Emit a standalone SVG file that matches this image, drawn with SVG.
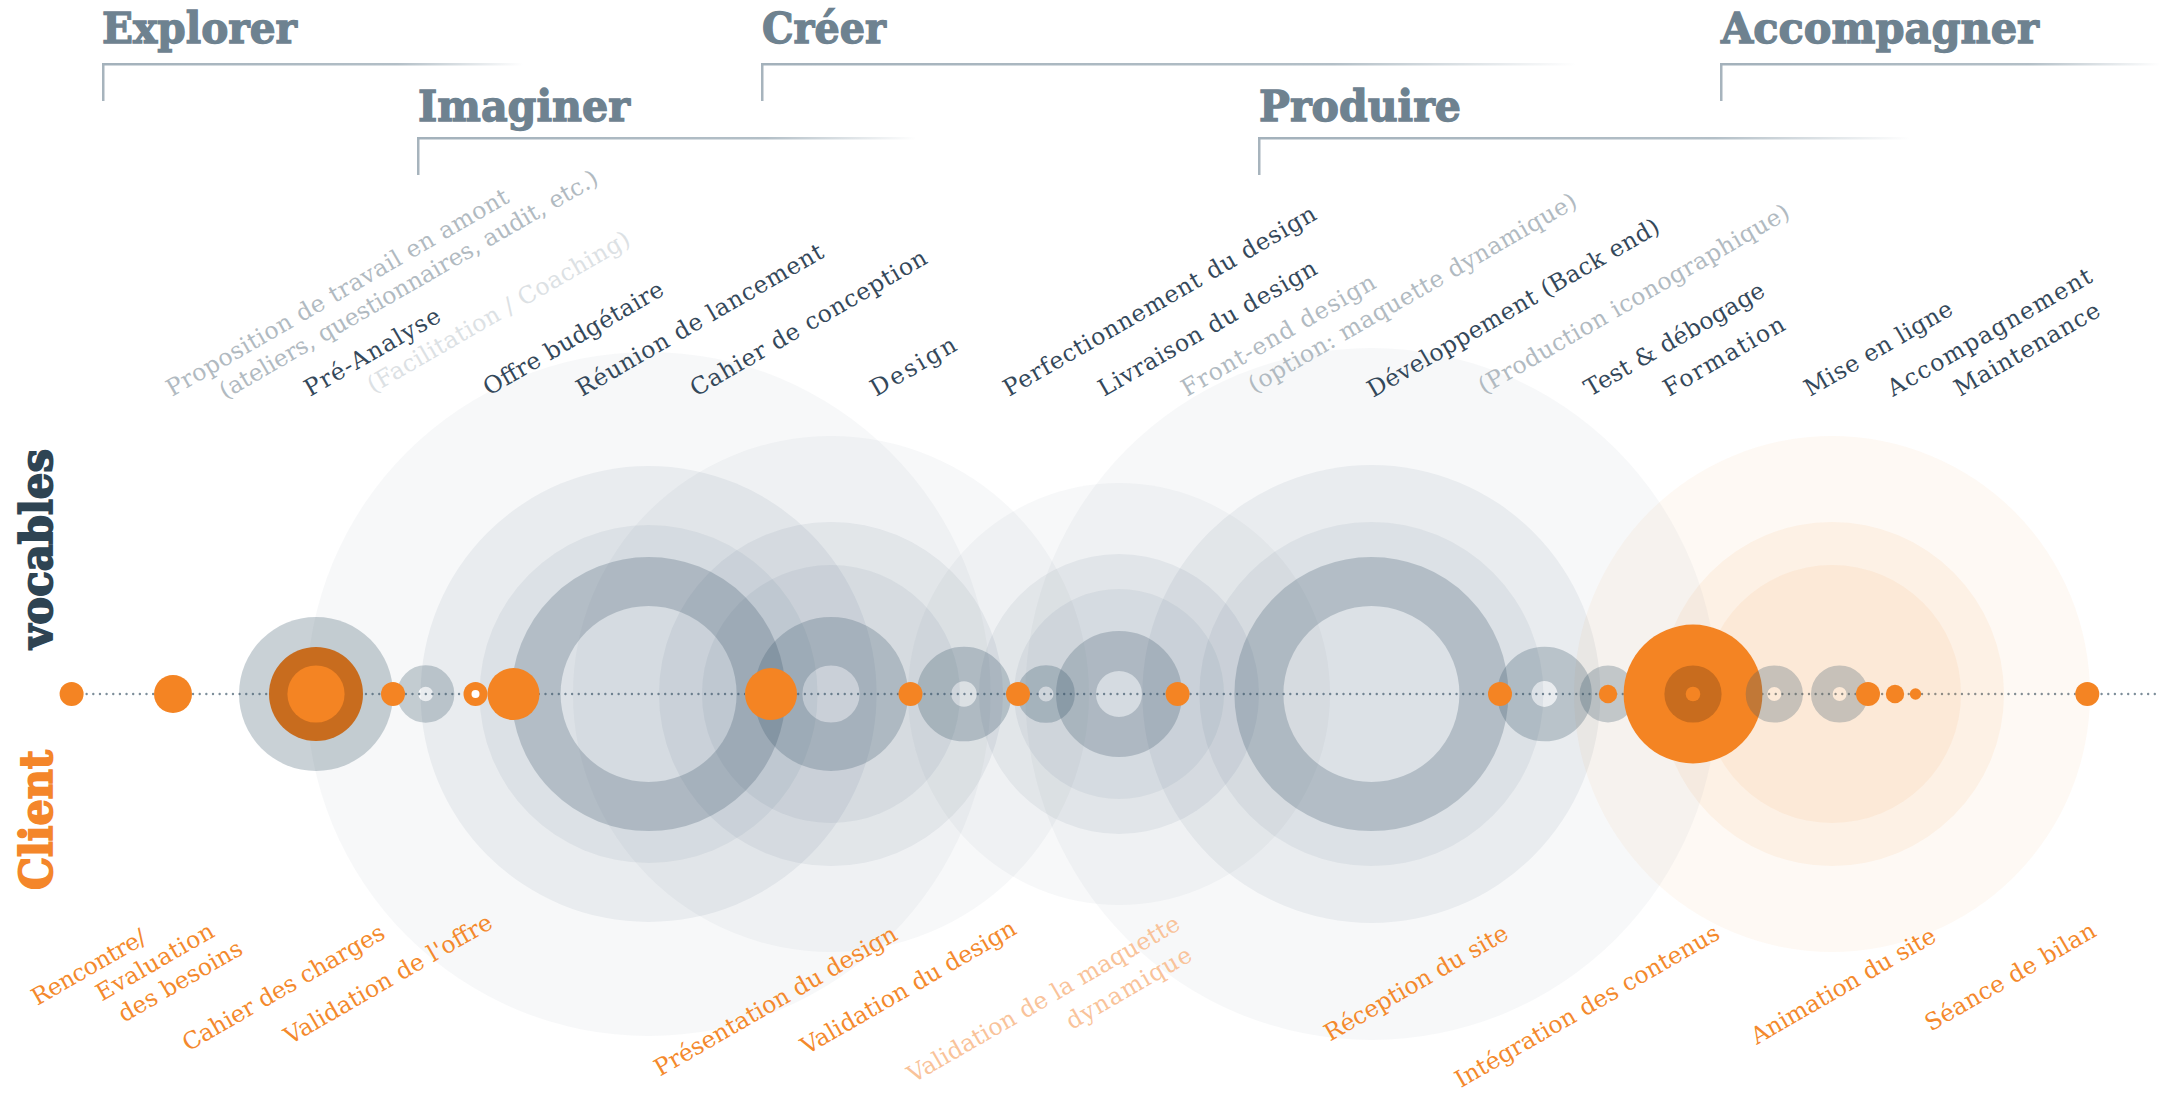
<svg xmlns="http://www.w3.org/2000/svg" width="2160" height="1094" viewBox="0 0 2160 1094">
<defs>
<linearGradient id="fadeH" x1="0" y1="0" x2="1" y2="0">
<stop offset="0" stop-color="#a3b1bb"/>
<stop offset="0.7" stop-color="#b3bfc7"/>
<stop offset="1" stop-color="#b3bfc7" stop-opacity="0"/>
</linearGradient>
<style>
.head{font-family:"DejaVu Serif","Liberation Serif",serif;font-weight:bold;font-size:42px;fill:#6e8290;stroke:#6e8290;stroke-width:1.3px}
.brk{fill:#a7b4bd}
.lbl{font-family:"DejaVu Serif","Liberation Serif",serif;font-size:23.5px}
.dk{fill:#34485a}
.lt{fill:#b1bac1}
.vlt{fill:#dce1e4}
.or{fill:#f4892c}
.olt{fill:#f9c39a}
.side{font-family:"DejaVu Serif","Liberation Serif",serif;font-weight:bold;font-size:44px;stroke-width:1.8px}
.g1{fill:#3d5a6c;fill-opacity:0.045}
.g2{fill:#3d5a6c;fill-opacity:0.07}
.rg{fill:none;stroke:#3d5a6c;stroke-opacity:0.26}
.sg{fill:#3d5a6c;fill-opacity:0.28}
.srg{fill:none;stroke:#3d5a6c;stroke-opacity:0.28}
.o1{fill:#f48423;fill-opacity:0.05}
.o2{fill:#f48423;fill-opacity:0.065}
.dot{fill:#f48423}
.dko{fill:#c86c1e}
.dash{stroke:#7d8e9a;stroke-width:2.4;stroke-linecap:round;stroke-dasharray:0 6.65;fill:none}
</style>
</defs>
<rect width="2160" height="1094" fill="#ffffff"/>

<g id="phases">
<text class="head" x="102" y="43" textLength="195" lengthAdjust="spacingAndGlyphs">Explorer</text>
<rect class="brk" x="102" y="63" width="2.5" height="38"/>
<rect x="102" y="63" width="421" height="2.5" fill="url(#fadeH)"/>
<text class="head" x="418" y="121" textLength="212" lengthAdjust="spacingAndGlyphs">Imaginer</text>
<rect class="brk" x="417" y="137" width="2.5" height="38"/>
<rect x="417" y="137" width="499" height="2.5" fill="url(#fadeH)"/>
<text class="head" x="762" y="43" textLength="124" lengthAdjust="spacingAndGlyphs">Créer</text>
<rect class="brk" x="761" y="63" width="2.5" height="38"/>
<rect x="761" y="63" width="815" height="2.5" fill="url(#fadeH)"/>
<text class="head" x="1259" y="121" textLength="202" lengthAdjust="spacingAndGlyphs">Produire</text>
<rect class="brk" x="1258" y="137" width="2.5" height="38"/>
<rect x="1258" y="137" width="652" height="2.5" fill="url(#fadeH)"/>
<text class="head" x="1721" y="43" textLength="318" lengthAdjust="spacingAndGlyphs">Accompagner</text>
<rect class="brk" x="1720" y="63" width="2.5" height="38"/>
<rect x="1720" y="63" width="440" height="2.5" fill="url(#fadeH)"/>
</g>

<g id="connectors">
<line class="dash" x1="80" y1="694" x2="2160" y2="694"/>
</g>

<g id="node-imaginer-big">
<circle class="g1" cx="648.6" cy="694" r="342"/>
<circle class="g2" cx="648.6" cy="694" r="228"/>
<circle class="g2" cx="648.6" cy="694" r="169"/>
<circle class="rg" cx="648.6" cy="694" r="112.5" stroke-width="49"/>
</g>
<g id="node-conception">
<circle class="g1" cx="831" cy="694" r="258"/>
<circle class="g2" cx="831" cy="694" r="172"/>
<circle class="g2" cx="831" cy="694" r="129"/>
<circle class="rg" cx="831" cy="694" r="52.8" stroke-width="48.4"/>
</g>
<g id="node-perfectionnement">
<circle class="srg" cx="964" cy="694" r="30" stroke-width="34.6"/>
</g>
<g id="node-livraison">
<circle class="srg" cx="1046" cy="694" r="18.2" stroke-width="21.3"/>
</g>
<g id="node-frontend">
<circle class="g1" cx="1119" cy="694" r="211"/>
<circle class="g2" cx="1119" cy="694" r="140"/>
<circle class="g2" cx="1119" cy="694" r="105"/>
<circle class="rg" cx="1119" cy="694" r="43" stroke-width="40"/>
</g>
<g id="node-developpement">
<circle class="g1" cx="1371.4" cy="694" r="346"/>
<circle class="g2" cx="1371.4" cy="694" r="229"/>
<circle class="g2" cx="1371.4" cy="694" r="172"/>
<circle class="rg" cx="1371.4" cy="694" r="112.5" stroke-width="49"/>
</g>
<g id="node-accompagner-halo">
<circle class="o1" cx="1832" cy="694" r="258"/>
<circle class="o2" cx="1832" cy="694" r="172"/>
<circle class="o2" cx="1832" cy="694" r="129"/>
</g>
<g id="node-test">
<circle class="srg" cx="1544.5" cy="694" r="30.1" stroke-width="34.4"/>
</g>
<g id="node-formation">
<circle class="sg" cx="1608" cy="694" r="28.4"/>
<circle class="dot" cx="1608" cy="694" r="9.2"/>
</g>
<g id="node-preanalyse">
<circle class="sg" cx="316" cy="694" r="77"/>
<circle class="dko" cx="316" cy="694" r="47"/>
<circle class="dot" cx="316" cy="694" r="28.6"/>
</g>
<g id="node-offre">
<circle class="srg" cx="425.7" cy="694" r="18" stroke-width="21.3"/>
</g>
<g id="node-validation-offre">
<circle class="dot" cx="475.5" cy="694" r="12"/>
<circle fill="#ffffff" cx="475.5" cy="694" r="4"/>
</g>
<g id="node-integration">
<circle class="dot" cx="1693" cy="694" r="69.4"/>
<circle class="dko" cx="1693" cy="694" r="28.6"/>
<circle class="dot" cx="1693" cy="694" r="7.3"/>
</g>
<g id="node-mise-en-ligne">
<circle class="srg" cx="1774.3" cy="694" r="17.8" stroke-width="21.6"/>
</g>
<g id="node-maintenance">
<circle class="srg" cx="1839.6" cy="694" r="17.8" stroke-width="21.6"/>
</g>
<g id="client-dots">
<circle class="dot" cx="71.6" cy="694" r="12"/>
<circle class="dot" cx="173" cy="694" r="19"/>
<circle class="dot" cx="393" cy="694" r="12"/>
<circle class="dot" cx="513.5" cy="694" r="26"/>
<circle class="dot" cx="771" cy="694" r="26"/>
<circle class="dot" cx="910.5" cy="694" r="12"/>
<circle class="dot" cx="1018" cy="694" r="12"/>
<circle class="dot" cx="1177.6" cy="694" r="12"/>
<circle class="dot" cx="1500" cy="694" r="12"/>
<circle class="dot" cx="1868" cy="694" r="12"/>
<circle class="dot" cx="1895" cy="694" r="9.2"/>
<circle class="dot" cx="1915.5" cy="694" r="5.7"/>
<circle class="dot" cx="2087.3" cy="694" r="12"/>
</g>

<g id="side-labels">
<text class="side" x="51.7" y="649" transform="rotate(-90 51.7 649)" textLength="200" lengthAdjust="spacingAndGlyphs" fill="#2e4453" stroke="#2e4453">vocables</text>
<text class="side" x="51.7" y="890" transform="rotate(-90 51.7 890)" textLength="140" lengthAdjust="spacingAndGlyphs" fill="#f4862a" stroke="#f4862a">Client</text>
</g>

<g id="agency-labels" class="lbl">
<text class="lt" x="172" y="397" transform="rotate(-30 172 397)" textLength="391">Proposition de travail en amont</text>
<text class="lt" x="225" y="399.5" transform="rotate(-30 225 399.5)" textLength="433">(ateliers, questionnaires, audit, etc.)</text>
<text class="dk" x="310" y="397" transform="rotate(-30 310 397)" textLength="153">Pré-Analyse</text>
<text class="vlt" x="373" y="393.5" transform="rotate(-30 373 393.5)" textLength="299">(Facilitation / Coaching)</text>
<text class="dk" x="489" y="396" transform="rotate(-30 489 396)" textLength="204">Offre budgétaire</text>
<text class="dk" x="582" y="397" transform="rotate(-30 582 397)" textLength="281">Réunion de lancement</text>
<text class="dk" x="696" y="397" transform="rotate(-30 696 397)" textLength="269">Cahier de conception</text>
<text class="dk" x="876" y="397" transform="rotate(-30 876 397)" textLength="95">Design</text>
<text class="dk" x="1009" y="397" transform="rotate(-30 1009 397)" textLength="357">Perfectionnement du design</text>
<text class="dk" x="1104" y="397" transform="rotate(-30 1104 397)" textLength="248">Livraison du design</text>
<text class="lt" x="1187" y="397" transform="rotate(-30 1187 397)" textLength="220">Front-end design</text>
<text class="lt" x="1254" y="393.5" transform="rotate(-30 1254 393.5)" textLength="375">(option: maquette dynamique)</text>
<text class="dk" x="1373" y="398" transform="rotate(-30 1373 398)" textLength="333">Développement (Back end)</text>
<text class="lt" x="1484" y="394.5" transform="rotate(-30 1484 394.5)" textLength="355">(Production iconographique)</text>
<text class="dk" x="1590" y="397" transform="rotate(-30 1590 397)" textLength="204">Test &amp; débogage</text>
<text class="dk" x="1669" y="397" transform="rotate(-30 1669 397)" textLength="136">Formation</text>
<text class="dk" x="1810" y="397" transform="rotate(-30 1810 397)" textLength="167">Mise en ligne</text>
<text class="dk" x="1893" y="397" transform="rotate(-30 1893 397)" textLength="232">Accompagnement</text>
<text class="dk" x="1960" y="397" transform="rotate(-30 1960 397)" textLength="164">Maintenance</text>
</g>

<g id="client-labels" class="lbl">
<text class="or" x="37.3" y="1006" transform="rotate(-30 37.3 1006)" textLength="128">Rencontre/</text>
<text class="or" x="101.7" y="1001.7" transform="rotate(-30 101.7 1001.7)" textLength="132">Evaluation</text>
<text class="or" x="124" y="1022.7" transform="rotate(-30 124 1022.7)" textLength="139">des besoins</text>
<text class="or" x="188.3" y="1051.7" transform="rotate(-30 188.3 1051.7)" textLength="229">Cahier des charges</text>
<text class="or" x="290" y="1045" transform="rotate(-30 290 1045)" textLength="236">Validation de l'offre</text>
<text class="or" x="660" y="1076.7" transform="rotate(-30 660 1076.7)" textLength="276">Présentation du design</text>
<text class="or" x="806.7" y="1055" transform="rotate(-30 806.7 1055)" textLength="244">Validation du design</text>
<text class="olt" x="913.3" y="1083.3" transform="rotate(-30 913.3 1083.3)" textLength="310">Validation de la maquette</text>
<text class="olt" x="1071.7" y="1030" transform="rotate(-30 1071.7 1030)" textLength="141">dynamique</text>
<text class="or" x="1330" y="1041.7" transform="rotate(-30 1330 1041.7)" textLength="208">Réception du site</text>
<text class="or" x="1460.7" y="1088.3" transform="rotate(-30 1460.7 1088.3)" textLength="301">Intégration des contenus</text>
<text class="or" x="1756.7" y="1045" transform="rotate(-30 1756.7 1045)" textLength="209">Animation du site</text>
<text class="or" x="1930.7" y="1031.7" transform="rotate(-30 1930.7 1031.7)" textLength="193">Séance de bilan</text>
</g>
</svg>
